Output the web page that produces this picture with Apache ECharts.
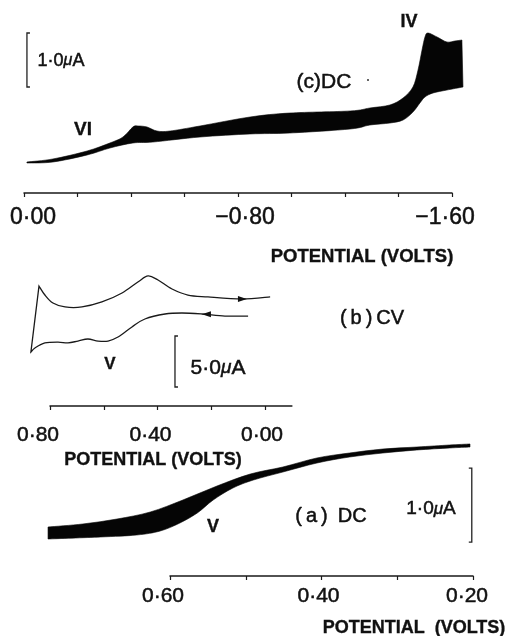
<!DOCTYPE html>
<html>
<head>
<meta charset="utf-8">
<script src="https://cdn.jsdelivr.net/npm/echarts@6/dist/echarts.min.js"></script>
<style>
  html, body { margin: 0; padding: 0; background: #fff; }
  #chart { width: 507px; height: 636px; }
</style>
</head>
<body>
<div id="chart"></div>
<script>
// (c) DC polarogram, 0.00 to -1.64 V: upper and lower envelope of the oscillating current (μA)
const dcCUpper = [
  [-0.011, 0.574], [-0.108, 0.630], [-0.236, 0.778], [-0.321, 0.926], [-0.370, 1.037],
  [-0.407, 1.222], [-0.426, 1.241], [-0.460, 1.222], [-0.497, 1.148], [-0.546, 1.148],
  [-0.658, 1.241], [-0.845, 1.407], [-0.994, 1.481], [-1.219, 1.519], [-1.293, 1.574],
  [-1.368, 1.630], [-1.417, 1.759], [-1.454, 1.963], [-1.473, 2.278], [-1.488, 2.648],
  [-1.499, 2.889], [-1.510, 2.963], [-1.544, 2.889], [-1.581, 2.796], [-1.611, 2.815],
  [-1.637, 2.833]
];
const dcCLower = [
  [-0.011, 0.556], [-0.108, 0.574], [-0.236, 0.704], [-0.321, 0.833], [-0.407, 0.926],
  [-0.482, 0.944], [-0.658, 1.037], [-0.845, 1.093], [-0.994, 1.111], [-1.219, 1.185],
  [-1.293, 1.259], [-1.368, 1.296], [-1.417, 1.352], [-1.454, 1.500], [-1.480, 1.667],
  [-1.499, 1.778], [-1.529, 1.852], [-1.581, 1.907], [-1.641, 1.963]
];

// (b) cyclic voltammogram (μA): return sweep from 0.0 V to the vertex, then forward sweep
const cvUpperBranch = [
  [-0.019, 10.69], [0.086, 10.49], [0.212, 10.69], [0.287, 10.88], [0.346, 11.47],
  [0.398, 12.35], [0.435, 12.75], [0.473, 12.16], [0.532, 11.08], [0.607, 10.20],
  [0.681, 9.71], [0.744, 9.71], [0.789, 10.10], [0.819, 10.88], [0.841, 11.76]
];
const cvVertex = [0.871, 5.29];
const cvLowerBranch = [
  [0.856, 5.69], [0.819, 6.18], [0.770, 6.27], [0.733, 6.18], [0.696, 6.37],
  [0.659, 6.57], [0.621, 6.37], [0.584, 6.37], [0.547, 6.76], [0.495, 7.75],
  [0.447, 8.53], [0.372, 9.02], [0.309, 9.12], [0.234, 9.02], [0.149, 8.82],
  [0.063, 8.82]
];
// sweep direction arrows: [potential, current, direction]
const cvArrows = [[0.086, 10.49, 'right'], [0.216, 9.00, 'left']];

// (a) DC polarogram, 0.76 to 0.20 V (μA)
const dcAUpper = [
  [0.761, 0.662], [0.715, 0.703], [0.670, 0.770], [0.626, 0.865], [0.583, 1.027],
  [0.538, 1.216], [0.494, 1.378], [0.451, 1.473], [0.406, 1.595], [0.363, 1.662],
  [0.319, 1.716], [0.274, 1.743], [0.231, 1.770], [0.204, 1.784]
];
const dcALower = [
  [0.761, 0.500], [0.692, 0.527], [0.644, 0.554], [0.613, 0.608], [0.587, 0.716],
  [0.564, 0.851], [0.543, 1.027], [0.517, 1.189], [0.490, 1.297], [0.451, 1.405],
  [0.406, 1.527], [0.363, 1.608], [0.319, 1.662], [0.274, 1.703], [0.231, 1.730],
  [0.204, 1.743]
];

// current scale bars: [potential, current from, current to]
const scaleBarC = [-0.011, 1.963, 2.963];   // 1.0 μA
const scaleBarB = [0.335, 1.863, 6.863];    // 5.0 μA
const scaleBarA = [0.2016, 0.459, 1.459];   // 1.0 μA

// tick positions and labelled ticks (volts)
const ticksC = [0, -0.2, -0.4, -0.6, -0.8, -1.0, -1.2, -1.4, -1.6];
const labelsC = [0, -0.8, -1.6];
const ticksB = [0.8, 0.6, 0.4, 0.2, 0];
const labelsB = [0.8, 0.4, 0];
const ticksA = [0.6, 0.5, 0.4, 0.3, 0.2];
const labelsA = [0.6, 0.4, 0.2];

const FONT = '"Liberation Sans", Arial, sans-serif';
const INK = '#111';
const HEAVY = 0.5;   // thin outline that gives the face a little more weight

function voltText(v) {
  return v.toFixed(2).replace('-', '\u2212').replace('.', '\u00b7');
}

// axis label with a small per-label horizontal nudge (px, + = right)
function voltAxisLabel(values, shifts, size, margin) {
  const rich = {};
  shifts.forEach((s, i) => {
    rich['s' + i] = {
      fontSize: size, fontFamily: FONT, color: INK,
      textBorderColor: INK, textBorderWidth: HEAVY,
      padding: s >= 0 ? [0, 0, 0, 2 * s] : [0, -2 * s, 0, 0]
    };
  });
  return {
    customValues: values,
    margin: margin,
    fontSize: size,
    fontFamily: FONT,
    color: INK,
    formatter: v => {
      const i = values.findIndex(x => Math.abs(x - v) < 1e-6);
      return '{s' + Math.max(i, 0) + '|' + voltText(v) + '}';
    },
    rich: rich
  };
}

function potentialAxis(idx, min, max, ticks, labels, shifts, size, margin) {
  return {
    gridIndex: idx, type: 'value', min: min, max: max, inverse: true,
    axisLine: { lineStyle: { color: '#1a1a1a', width: 1.5 } },
    axisTick: { customValues: ticks, length: 4, inside: false, lineStyle: { color: '#1a1a1a', width: 1.2 } },
    axisLabel: voltAxisLabel(labels, shifts, size, margin),
    splitLine: { show: false }
  };
}

function currentAxis(idx, max) {
  return { gridIndex: idx, type: 'value', min: 0, max: max, show: false, splitLine: { show: false } };
}

// Catmull-Rom curve through pixel points, as SVG cubic segments (no leading move)
function curveSegments(pts) {
  let d = '';
  for (let i = 0; i < pts.length - 1; i++) {
    const p0 = pts[Math.max(i - 1, 0)], p1 = pts[i], p2 = pts[i + 1], p3 = pts[Math.min(i + 2, pts.length - 1)];
    const c1 = [p1[0] + (p2[0] - p0[0]) / 6, p1[1] + (p2[1] - p0[1]) / 6];
    const c2 = [p2[0] - (p3[0] - p1[0]) / 6, p2[1] - (p3[1] - p1[1]) / 6];
    d += ' C' + c1[0].toFixed(2) + ' ' + c1[1].toFixed(2) + ' ' + c2[0].toFixed(2) + ' ' + c2[1].toFixed(2) +
         ' ' + p2[0].toFixed(2) + ' ' + p2[1].toFixed(2);
  }
  return d;
}
function at(p) { return p[0].toFixed(2) + ' ' + p[1].toFixed(2); }

// filled envelope between the two traces of a DC polarogram
function bandSeries(idx, upper, lower) {
  return {
    type: 'custom', xAxisIndex: idx, yAxisIndex: idx, clip: false, silent: true,
    data: [upper[0]],
    renderItem: (params, api) => {
      const up = upper.map(p => api.coord(p));
      const lo = lower.slice().reverse().map(p => api.coord(p));
      const d = 'M' + at(up[0]) + curveSegments(up) + ' L' + at(lo[0]) + curveSegments(lo) + ' Z';
      return { type: 'path', shape: { pathData: d }, style: { fill: '#050505', stroke: '#050505', lineWidth: 0.6 } };
    }
  };
}

// cyclic voltammogram trace, sharp at the switching vertex
function cvTraceSeries(idx) {
  return {
    type: 'custom', xAxisIndex: idx, yAxisIndex: idx, clip: false, silent: true,
    data: [cvVertex],
    renderItem: (params, api) => {
      const top = cvUpperBranch.map(p => api.coord(p));
      const v = api.coord(cvVertex);
      const bottom = [v].concat(cvLowerBranch.map(p => api.coord(p)));
      const d = 'M' + at(top[0]) + curveSegments(top) + ' L' + at(v) + curveSegments(bottom);
      return { type: 'path', shape: { pathData: d }, style: { fill: null, stroke: '#1a1a1a', lineWidth: 1.3 } };
    }
  };
}

// sweep direction arrowheads
function arrowSeries(idx) {
  return {
    type: 'custom', xAxisIndex: idx, yAxisIndex: idx, clip: false, silent: true,
    data: cvArrows.map(a => [a[0], a[1]]),
    renderItem: (params, api) => {
      const a = cvArrows[params.dataIndex];
      const c = api.coord([a[0], a[1]]);
      const s = a[2] === 'right' ? 1 : -1;
      return {
        type: 'polygon',
        shape: { points: [[c[0] + 5 * s, c[1]], [c[0] - 4 * s, c[1] - 3], [c[0] - 4 * s, c[1] + 3]] },
        style: { fill: '#111' }
      };
    }
  };
}

// bracket-shaped current scale bar; dir = +1 serifs to the right, -1 to the left
function scaleBarSeries(idx, bar, dir) {
  return {
    type: 'custom', xAxisIndex: idx, yAxisIndex: idx, clip: false, silent: true,
    data: [bar],
    renderItem: (params, api) => {
      const a = api.coord([bar[0], bar[1]]);
      const b = api.coord([bar[0], bar[2]]);
      const s = 3 * dir;
      return {
        type: 'polyline',
        shape: { points: [[a[0] + s, a[1]], a, b, [b[0] + s, b[1]]] },
        style: { stroke: '#222', lineWidth: 1.3, fill: null }
      };
    }
  };
}

function txt(x, y, text, size, weight) {
  return {
    type: 'text', x: x, y: y,
    style: {
      text: text, fill: INK, font: (weight || 'normal') + ' ' + size + 'px ' + FONT,
      align: 'center', verticalAlign: 'middle',
      stroke: INK, lineWidth: weight === 'bold' ? 0.35 : HEAVY
    }
  };
}

function microAmp(x, y, value, size) {
  const base = { fontSize: size, fontFamily: FONT, fill: INK, stroke: INK, lineWidth: HEAVY };
  return {
    type: 'text', x: x, y: y,
    style: {
      text: '{n|' + value + '}{m|\u03bc}{n|A}',
      align: 'center', verticalAlign: 'middle',
      rich: {
        n: base,
        m: Object.assign({}, base, { fontSize: size - 2, fontStyle: 'italic' })
      }
    }
  };
}

const chart = echarts.init(document.getElementById('chart'), null, { renderer: 'canvas' });

chart.setOption({
  backgroundColor: '#ffffff',
  animation: false,
  grid: [
    { left: 24, top: 4, width: 428, height: 189 },
    { left: 50, top: 263.2, width: 241.9, height: 142.8 },
    { left: 170, top: 428, width: 303, height: 148 }
  ],
  xAxis: [
    potentialAxis(0, -1.6, 0, ticksC, labelsC, [9, 7, -7], 23, 13),
    potentialAxis(1, -0.1, 0.8, ticksB, labelsB, [-12, -7, -3], 21, 19),
    potentialAxis(2, 0.2, 0.6, ticksA, labelsA, [-7, -3, -6], 21, 10)
  ],
  yAxis: [currentAxis(0, 3.5), currentAxis(1, 14), currentAxis(2, 2)],
  series: [
    bandSeries(0, dcCUpper, dcCLower),
    scaleBarSeries(0, scaleBarC, 1),
    cvTraceSeries(1),
    arrowSeries(1),
    scaleBarSeries(1, scaleBarB, 1),
    bandSeries(2, dcAUpper, dcALower),
    scaleBarSeries(2, scaleBarA, -1)
  ],
  graphic: [
    microAmp(61, 61, '1\u00b70', 18),
    txt(83, 130, 'VI', 19, 'bold'),
    txt(409, 22, 'IV', 18, 'bold'),
    txt(324, 82, '(c)DC', 21),
    { type: 'circle', shape: { cx: 368, cy: 80, r: 1 }, style: { fill: '#333' } },
    txt(362, 257, 'POTENTIAL (VOLTS)', 18.5, 'bold'),
    txt(372, 318, '(\u2009b\u2009)\u2009CV', 20),
    txt(110, 364, 'V', 17, 'bold'),
    microAmp(218, 368, '5\u00b70', 21),
    txt(153, 460, 'POTENTIAL (VOLTS)', 18, 'bold'),
    txt(331, 516, '(\u2009a\u2009)\u2002DC', 20),
    microAmp(431, 509, '1\u00b70', 19),
    txt(213, 527, 'V', 18, 'bold'),
    txt(414, 628, 'POTENTIAL  (VOLTS)', 18, 'bold')
  ]
});
</script>
</body>
</html>
